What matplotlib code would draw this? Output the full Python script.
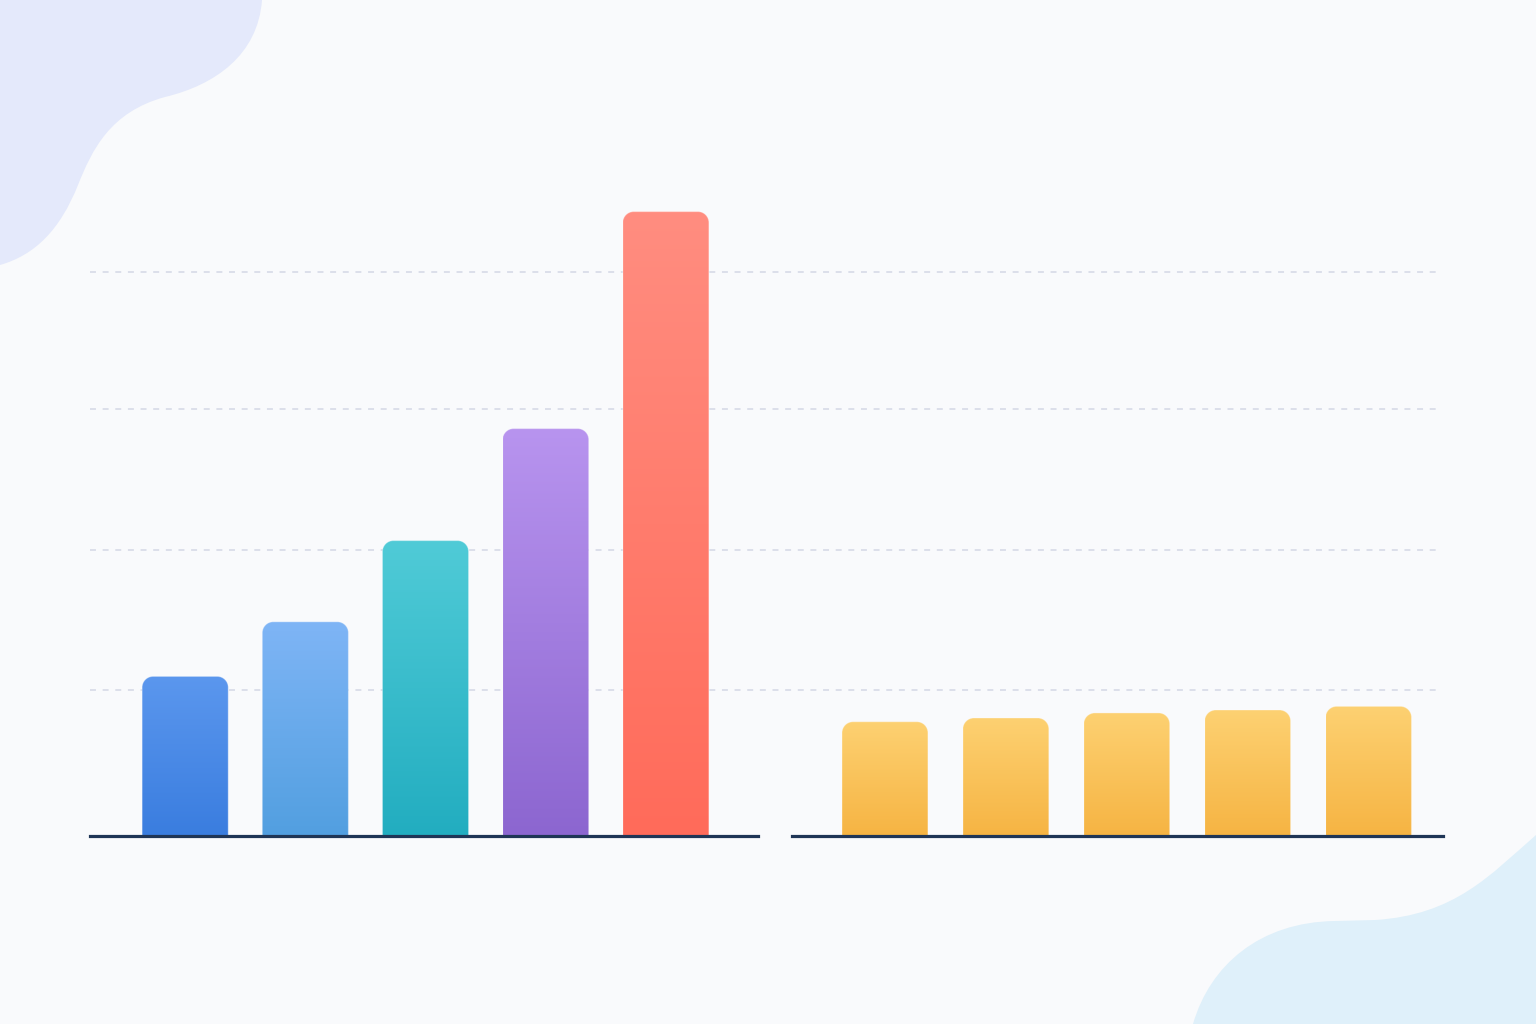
import numpy as np
import matplotlib.pyplot as plt
from matplotlib.patches import PathPatch
from matplotlib.path import Path
from matplotlib.colors import LinearSegmentedColormap

# Data (units: 1 unit ~ 14 px in the reference)
left_values = [11.4, 15.3, 21.1, 29.1, 44.6]
right_values = [8.16, 8.43, 8.79, 9.0, 9.26]
grid_values = [10.4, 20.4, 30.5, 40.3]

left_colors = [("#3a7ddf", "#5b97ee"),
               ("#529fe0", "#7fb5f6"),
               ("#22adc0", "#50cbd7"),
               ("#8c66d0", "#b894ef"),
               ("#ff6b5a", "#ff8d80")]
right_colors = [("#f6b443", "#fdd172")] * 5

bg_color = "#f9fafc"
base_color = "#1f3556"
y_max = 49.0

fig = plt.figure(figsize=(15.36, 10.24), dpi=100, facecolor=bg_color)

# Background with decorative blobs
bg = fig.add_axes([0, 0, 1, 1], zorder=0)
bg.set_xlim(0, 1536)
bg.set_ylim(1024, 0)
bg.axis("off")
bg.set_facecolor(bg_color)

tl = Path([(0, 0), (262, 0),
           (258, 55), (215, 85), (165, 97),
           (110, 112), (92, 150), (78, 185),
           (60, 230), (35, 255), (0, 265),
           (0, 0)],
          [Path.MOVETO, Path.LINETO,
           Path.CURVE4, Path.CURVE4, Path.CURVE4,
           Path.CURVE4, Path.CURVE4, Path.CURVE4,
           Path.CURVE4, Path.CURVE4, Path.CURVE4,
           Path.CLOSEPOLY])
bg.add_patch(PathPatch(tl, facecolor="#e4e9fb", edgecolor="none"))

br = Path([(1536, 835),
           (1490, 875), (1455, 915), (1375, 920),
           (1335, 921),
           (1260, 922), (1210, 965), (1193, 1024),
           (1536, 1024), (1536, 835)],
          [Path.MOVETO,
           Path.CURVE4, Path.CURVE4, Path.CURVE4,
           Path.LINETO,
           Path.CURVE4, Path.CURVE4, Path.CURVE4,
           Path.LINETO, Path.CLOSEPOLY])
bg.add_patch(PathPatch(br, facecolor="#dff0fa", edgecolor="none"))

bottom = (1024 - 836) / 1024
height = (836 - 150) / 1024

# Gridlines spanning both panels
gax = fig.add_axes([90 / 1536, bottom, (1440 - 90) / 1536, height], zorder=1)
gax.set_ylim(0, y_max)
gax.axis("off")
for g in grid_values:
    gax.axhline(g, color="#d9dde9", lw=1.3, linestyle=(0, (3.3, 3.7)))

ax1 = fig.add_axes([90 / 1536, bottom, (758 - 90) / 1536, height], zorder=2)
ax2 = fig.add_axes([792 / 1536, bottom, (1443 - 792) / 1536, height], zorder=2)
ax1.set_xlim(-0.792, 4.767)
ax2.set_xlim(-0.769, 4.616)


def top_rounded(x0, w, h, rx, ry):
    # rectangle with rounded top corners (bezier quarter ellipses)
    k = 0.5523
    x1 = x0 + w
    verts = [(x0, 0), (x0, h - ry),
             (x0, h - ry + k * ry), (x0 + rx - k * rx, h), (x0 + rx, h),
             (x1 - rx, h),
             (x1 - rx + k * rx, h), (x1, h - ry + k * ry), (x1, h - ry),
             (x1, 0), (x0, 0)]
    codes = [Path.MOVETO, Path.LINETO,
             Path.CURVE4, Path.CURVE4, Path.CURVE4,
             Path.LINETO,
             Path.CURVE4, Path.CURVE4, Path.CURVE4,
             Path.LINETO, Path.CLOSEPOLY]
    return Path(verts, codes)


def draw_bars(ax, values, colors, width):
    ax.set_ylim(0, y_max)
    ax.patch.set_alpha(0)
    for s in ["top", "left", "right"]:
        ax.spines[s].set_visible(False)
    ax.spines["bottom"].set_color(base_color)
    ax.spines["bottom"].set_linewidth(2.3)
    ax.spines["bottom"].set_zorder(5)
    ax.set_xticks([])
    ax.set_yticks([])

    bars = ax.bar(range(len(values)), values, width=width)
    p0 = ax.transData.transform((0, 0))
    px_x = ax.transData.transform((1, 0))[0] - p0[0]
    px_y = ax.transData.transform((0, 1))[1] - p0[1]
    radius = 11
    rx, ry = radius / px_x, radius / px_y
    for rect, (c_bot, c_top) in zip(bars, colors):
        rect.set_visible(False)
        x0, w, h = rect.get_x(), rect.get_width(), rect.get_height()
        shape = PathPatch(top_rounded(x0, w, h, rx, ry),
                          facecolor="none", edgecolor="white",
                          lw=0.8, alpha=0.3, zorder=3)
        ax.add_patch(shape)
        cmap = LinearSegmentedColormap.from_list("g", [c_bot, c_top])
        grad = np.linspace(0, 1, 256).reshape(-1, 1)
        im = ax.imshow(grad, cmap=cmap, origin="lower", aspect="auto",
                       extent=(x0, x0 + w, 0, h), zorder=2,
                       interpolation="bicubic")
        im.set_clip_path(shape)


draw_bars(ax1, left_values, left_colors, 86 / 120)
draw_bars(ax2, right_values, right_colors, 86 / 121)
ax1.set_xlim(-0.792, 4.767)
ax2.set_xlim(-0.769, 4.616)

fig.savefig("out.png", dpi=100, facecolor=bg_color)
